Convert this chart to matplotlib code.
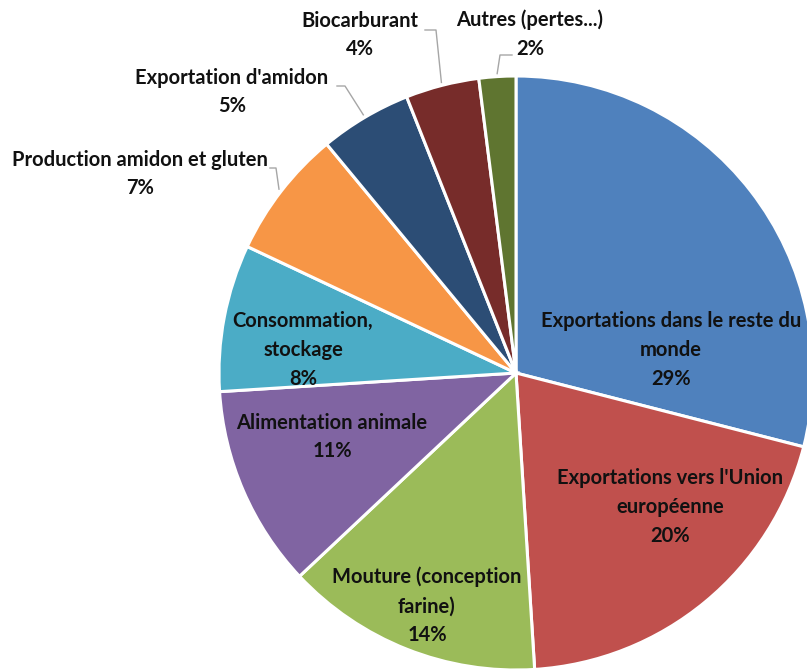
"""
pie chart: utilisation du maïs (parts en %)
"""

import numpy as np
import matplotlib.pyplot as plt

W, H = 807, 670
CX, CY, RAD = 516, 373, 297   # pie centre and radius, pixels

labels = ["Exportations dans le reste du\nmonde",
          "Exportations vers l'Union\neuropéenne",
          "Mouture (conception\nfarine)",
          "Alimentation animale",
          "Consommation,\nstockage",
          "Production amidon et gluten",
          "Exportation d'amidon",
          "Biocarburant",
          "Autres (pertes...)"]
shares = [29, 20, 14, 11, 8, 7, 5, 4, 2]
colors = ["#4F81BD", "#C0504D", "#9BBB59", "#8064A2", "#4BACC6",
          "#F79646", "#2C4D75", "#772C2A", "#5F7530"]

# label centres (pixels) and leader elbows for outside labels
label_pos = [(671, 350), (670, 507), (427, 606), (332, 437), (303, 350),
             (140, 174), (232, 92), (360, 35), (530, 34)]
outside = [False, False, False, False, False, True, True, True, True]
elbows = {5: [(276, 168), (270, 168)],
          6: [(345, 86), (337, 86)],
          7: [(436, 30), (425, 30)],
          8: [(500, 55), (512, 55)]}


def to_data(px, py):
    """ pixel (from top-left) -> data coords with unit radius """
    return (px - CX) / RAD, (CY - py) / RAD


def main():
    """ main """
    plt.switch_backend("agg")
    fig = plt.figure(figsize=(W / 100, H / 100), dpi=100)
    ax = fig.add_axes([0, 0, 1, 1])
    wedges, _ = ax.pie(shares, colors=colors, startangle=90,
                       counterclock=False, radius=1.0,
                       wedgeprops=dict(edgecolor="white", linewidth=2.2))
    ax.set_xlim(-CX / RAD, (W - CX) / RAD)
    ax.set_ylim(-(H - CY) / RAD, CY / RAD)
    ax.set_aspect("equal")
    ax.axis("off")

    font = dict(family=["Lato", "DejaVu Sans"], fontweight="bold",
                fontsize=14.5, color="#111111", ha="center", va="center",
                linespacing=1.55)
    for i, (lab, val) in enumerate(zip(labels, shares)):
        x, y = to_data(*label_pos[i])
        ax.text(x, y, "%s\n%d%%" % (lab, val), **font)
        if outside[i]:
            w = wedges[i]
            mid = np.deg2rad((w.theta1 + w.theta2) / 2)
            pts = [(np.cos(mid) * 1.01, np.sin(mid) * 1.01)]
            pts += [to_data(*p) for p in elbows[i]]
            xs, ys = zip(*pts)
            ax.plot(xs, ys, color="#A6A6A6", lw=1)

    fig.savefig("out.png", dpi=100)


if __name__ == "__main__":
    main()
